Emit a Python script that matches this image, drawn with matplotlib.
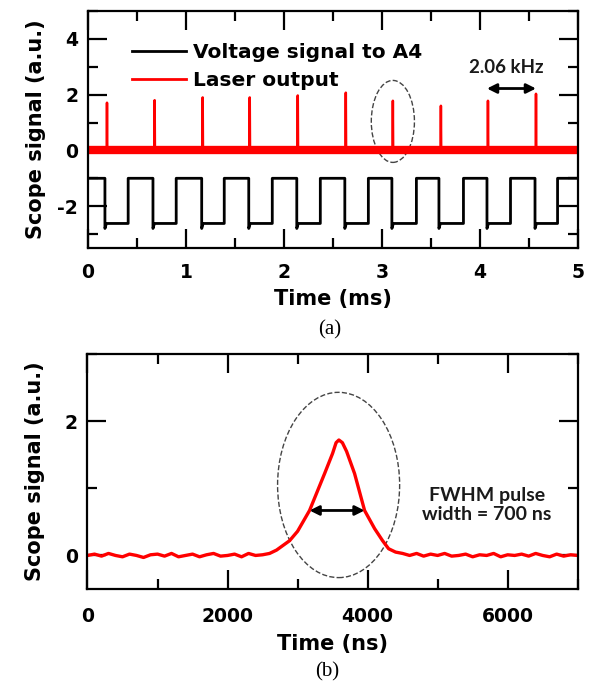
import matplotlib
matplotlib.use("Agg")
import matplotlib.pyplot as plt
from matplotlib.patches import Ellipse
from matplotlib.lines import Line2D
from matplotlib.ticker import MultipleLocator

plt.rcParams["axes.unicode_minus"] = False

# ---- panel (a): pulse train ----
pulse_times = [0.194, 0.68, 1.17, 1.65, 2.14, 2.63, 3.11, 3.60, 4.08, 4.57]   # ms
pulse_heights = [1.71, 1.80, 1.90, 1.90, 1.97, 2.07, 1.78, 1.60, 1.78, 2.03]
# square wave edges (fall, rise, fall, rise ...)
volt_edges = [0.173, 0.41, 0.663, 0.90, 1.16, 1.39, 1.64, 1.88, 2.13, 2.37,
              2.62, 2.86, 3.10, 3.35, 3.58, 3.83, 4.07, 4.31, 4.56, 4.79]
volt_high = -1.0
volt_low = -2.62
volt_dip = -2.8

# ---- panel (b): single pulse ----
pulse_t = [0, 100, 200, 300, 400, 500, 600, 700, 800, 900, 1000, 1100, 1200, 1300,
           1400, 1500, 1600, 1700, 1800, 1900, 2000, 2100, 2200, 2300, 2400, 2500,
           2600, 2700, 2886, 3000, 3171, 3386, 3500, 3550, 3590, 3640, 3700, 3814,
           3957, 4100, 4214, 4300, 4400, 4500, 4600, 4700, 4800, 4900, 5000, 5100,
           5200, 5300, 5400, 5500, 5600, 5700, 5800, 5900, 6000, 6100, 6200, 6300,
           6400, 6500, 6600, 6700, 6800, 6900, 7000]
pulse_v = [0.0, 0.02, -0.01, 0.03, 0.0, -0.02, 0.02, 0.0, -0.03, 0.01, 0.02, -0.01,
           0.03, -0.02, 0.0, 0.02, -0.02, 0.01, 0.03, -0.01, 0.0, 0.02, -0.02, 0.03,
           0.0, 0.01, 0.03, 0.08, 0.22, 0.36, 0.67, 1.22, 1.52, 1.68, 1.72, 1.68,
           1.55, 1.22, 0.67, 0.40, 0.22, 0.10, 0.05, 0.03, 0.0, 0.03, -0.01, 0.02,
           0.0, 0.03, -0.01, 0.0, 0.02, -0.02, 0.01, 0.0, 0.03, -0.02, 0.01, 0.0,
           0.02, -0.01, 0.03, 0.0, -0.02, 0.02, -0.01, 0.01, 0.0]
fwhm_left = 3171
fwhm_right = 3957
fwhm_level = 0.67

bold = {"family": "DejaVu Sans", "weight": "bold"}

fig = plt.figure(figsize=(5.92, 6.83), dpi=100)
ax1 = fig.add_axes([0.1486, 0.6369, 0.828, 0.347])
ax2 = fig.add_axes([0.1478, 0.1376, 0.828, 0.344])


def style_axes(ax, xpad):
    for sp in ax.spines.values():
        sp.set_linewidth(1.6)
    ax.tick_params(which="both", direction="in", top=True, right=True, width=1.6)
    ax.tick_params(which="major", length=14)
    ax.tick_params(axis="y", which="major", pad=7)
    ax.tick_params(axis="x", which="major", pad=xpad)
    ax.tick_params(which="minor", length=7)
    for lab in ax.get_xticklabels() + ax.get_yticklabels():
        lab.set_fontfamily("DejaVu Sans")
        lab.set_fontweight("bold")
        lab.set_fontsize(13.5)


# square wave
vx = [0.0]
vy = [volt_high]
level = volt_high
for i, t in enumerate(volt_edges):
    vx.append(t)
    vy.append(level)
    if i % 2 == 0:
        vx += [t, t + 0.015]
        vy += [volt_dip, volt_low]
        level = volt_low
    else:
        vx.append(t)
        vy.append(volt_high)
        level = volt_high
vx.append(5.0)
vy.append(level)

# laser trace
lx = [0.0]
ly = [0.0]
for t, h in zip(pulse_times, pulse_heights):
    lx += [t - 0.003, t, t + 0.003]
    ly += [0.0, h, 0.0]
lx.append(5.0)
ly.append(0.0)

ax1.plot(vx, vy, color="black", lw=2)
ax1.axhline(0, color="red", lw=6)
ax1.plot(lx, ly, color="red", lw=1.8)
ax1.set_xlim(0, 5)
ax1.set_ylim(-3.5, 5)
ax1.xaxis.set_major_locator(MultipleLocator(1))
ax1.xaxis.set_minor_locator(MultipleLocator(0.5))
ax1.yaxis.set_major_locator(MultipleLocator(2))
ax1.yaxis.set_minor_locator(MultipleLocator(1))
style_axes(ax1, 11)
ax1.set_xlabel("Time (ms)", fontdict=bold, fontsize=15, labelpad=5)
ax1.set_ylabel("Scope signal (a.u.)", fontdict=bold, fontsize=15, labelpad=8)

handles = [Line2D([], [], color="black", lw=2), Line2D([], [], color="red", lw=2)]
ax1.legend(handles, ["Voltage signal to A4", "Laser output"], loc="upper left",
           bbox_to_anchor=(0.09, 0.865), frameon=False, borderpad=0, borderaxespad=0,
           handlelength=2.7, handletextpad=0.3, labelspacing=0.45,
           prop={"family": "DejaVu Sans", "weight": "bold", "size": 14.5})

ax1.add_patch(Ellipse((3.11, 1.04), 0.44, 2.94, fill=False, ls="--", lw=1,
                      edgecolor="#444444"))
ax1.annotate("", xy=(4.07, 2.22), xytext=(4.57, 2.22),
             arrowprops=dict(arrowstyle="<|-|>", color="black", lw=2,
                             mutation_scale=14, shrinkA=0, shrinkB=0))
ax1.text(4.27, 2.97, "2.06 kHz", ha="center", va="center", fontsize=13.5,
         family="Lato", weight="bold", color="#1a1a1a")

# panel (b)
ax2.plot(pulse_t, pulse_v, color="red", lw=2.4)
ax2.set_xlim(0, 7000)
ax2.set_ylim(-0.5, 3)
ax2.xaxis.set_major_locator(MultipleLocator(2000))
ax2.xaxis.set_minor_locator(MultipleLocator(1000))
ax2.yaxis.set_major_locator(MultipleLocator(2))
ax2.yaxis.set_minor_locator(MultipleLocator(1))
style_axes(ax2, 13)
ax2.set_xlabel("Time (ns)", fontdict=bold, fontsize=15, labelpad=6)
ax2.set_ylabel("Scope signal (a.u.)", fontdict=bold, fontsize=15, labelpad=14)

ax2.add_patch(Ellipse((3586, 1.05), 1743, 2.76, fill=False, ls="--", lw=1,
                      edgecolor="#444444"))
ax2.annotate("", xy=(fwhm_left, fwhm_level), xytext=(fwhm_right, fwhm_level),
             arrowprops=dict(arrowstyle="<|-|>", color="black", lw=2,
                             mutation_scale=14, shrinkA=0, shrinkB=0))
ax2.text(5700, 0.75, "FWHM pulse\nwidth = 700 ns", ha="center", va="center",
         fontsize=14, family="Lato", weight="bold", color="#1a1a1a",
         linespacing=1.1)

fig.text(330 / 592, 1 - 330 / 683, "(a)", ha="center", va="center",
         family="Liberation Serif", fontsize=15)
fig.text(327 / 592, 1 - 672 / 683, "(b)", ha="center", va="center",
         family="Liberation Serif", fontsize=15)

fig.savefig("out.png", dpi=100)
